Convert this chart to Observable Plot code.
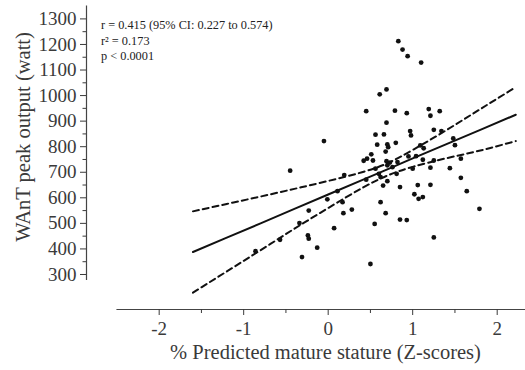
<!DOCTYPE html>
<html><head><meta charset="utf-8">
<script src="https://cdn.jsdelivr.net/npm/d3@7"></script>
<script src="https://cdn.jsdelivr.net/npm/@observablehq/plot@0.6"></script>
<style>html,body{margin:0;padding:0;background:#fff;}</style>
</head><body><div id="chart"></div>
<script>
// Observed data: % predicted mature stature (Z) vs WAnT peak output (watt)
const zScores = [0.83,0.88,0.94,1.10,0.61,0.69,0.45,0.79,0.93,1.19,1.32,1.21,0.69,-0.05,0.56,0.66,0.97,0.98,1.25,1.34,
  0.58,0.70,0.71,0.80,1.48,1.50,-0.45,0.42,0.46,0.51,0.53,0.68,0.69,0.73,0.70,0.82,0.95,1.04,1.09,1.13,
  1.12,1.25,1.57,0.56,0.60,0.62,0.76,0.81,1.00,1.21,1.44,0.45,0.65,0.70,0.85,1.06,1.21,1.57,1.64,0.19,
  0.11,-0.01,-0.23,0.17,0.18,0.28,0.62,0.68,1.02,1.07,1.12,1.79,0.85,0.93,-0.34,0.07,-0.24,-0.23,-0.13,-0.31,
  -0.57,-0.86,0.50,0.55,1.25];
const peakOutput = [1213,1180,1154,1129,1005,1024,939,941,931,947,939,921,894,822,847,848,861,844,866,861,
  808,809,798,815,832,806,706,745,753,770,746,781,743,738,727,740,762,763,805,794,
  749,746,753,714,694,681,720,694,714,718,716,671,648,665,642,650,651,678,626,689,
  626,594,550,583,540,554,583,540,614,596,603,557,515,513,501,481,453,440,405,368,
  436,391,341,498,445];

// Regression line and 95% confidence limits
const fitZ    = [-1.6, -1.2, -0.8, -0.4, 0, 0.4, 0.7, 1.0, 1.4, 1.8, 2.22];
const fitLine = [388, 444, 500, 557, 613, 669, 711, 754, 810, 866, 925];
const ciUpper = [547, 576, 605, 635, 666, 700, 735, 787, 865, 947, 1033];
const ciLower = [229, 312, 395, 479, 560, 638, 687, 721, 755, 785, 822];

// Axes
const yTicks = [300, 400, 500, 600, 700, 800, 900, 1000, 1100, 1200, 1300];
const yMinor = [350, 450, 550, 650, 750, 850, 950, 1050, 1150, 1250];
const xTicks = [-2, -1, 0, 1, 2];
const xMinor = [-1.5, -0.5, 0.5, 1.5];
const xDomain = [-2.86, 2.335];
const yDomain = [163, 1372];
const yAxisExtent = [276, 1350];
const xAxisExtent = [-2.5, 2.335];

const xLabel = "% Predicted mature stature (Z-scores)";
const yLabel = "WAnT peak output (watt)";
const statsText = "r = 0.415 (95% CI: 0.227 to 0.574)\nr² = 0.173\np < 0.0001";

const points = zScores.map((z, i) => ({z, w: peakOutput[i]}));
const fitRows = fitZ.map((z, i) => ({z, fit: fitLine[i], hi: ciUpper[i], lo: ciLower[i]}));
const fmt = d => d < 0 ? "-" + Math.abs(d) : String(d);

const chart = Plot.plot({
  width: 525, height: 370,
  marginLeft: 86, marginRight: 0, marginTop: 0, marginBottom: 61,
  style: {fontFamily: "'Liberation Serif', serif", fontSize: "19px", color: "#3a3a3a", background: "#fff"},
  x: {domain: xDomain},
  y: {domain: yDomain},
  marks: [
    Plot.ruleX([xDomain[0]], {y1: yAxisExtent[0], y2: yAxisExtent[1], stroke: "#444", strokeWidth: 1.2}),
    Plot.ruleY([yDomain[0]], {x1: xAxisExtent[0], x2: xAxisExtent[1], stroke: "#444", strokeWidth: 1.2}),
    Plot.axisY(yTicks, {anchor: "left", tickSize: 6, tickPadding: 4, label: null, fontSize: 19, tickFormat: d => String(d)}),
    Plot.axisY(yMinor, {anchor: "left", tickSize: 3.5, tickFormat: () => "", label: null}),
    Plot.axisX(xTicks, {anchor: "bottom", tickSize: 6, tickPadding: 6, label: null, tickFormat: fmt, fontSize: 19}),
    Plot.axisX(xMinor, {anchor: "bottom", tickSize: 4, tickFormat: () => "", label: null}),
    Plot.line(fitRows, {x: "z", y: "fit", stroke: "#111", strokeWidth: 2}),
    Plot.line(fitRows, {x: "z", y: "hi", stroke: "#111", strokeWidth: 2, strokeDasharray: "6,4", curve: "natural"}),
    Plot.line(fitRows, {x: "z", y: "lo", stroke: "#111", strokeWidth: 2, strokeDasharray: "6,4", curve: "natural"}),
    Plot.dot(points, {x: "z", y: "w", r: 2.4, fill: "#111", stroke: null}),
    Plot.text([statsText], {frameAnchor: "top-left", dx: 14.5, dy: 18, lineAnchor: "top", textAnchor: "start", fontSize: 12.3, lineHeight: 1.25, fill: "#222"}),
    Plot.text([xLabel], {frameAnchor: "bottom", dx: 19.5, dy: 49, fontSize: 20.5, fill: "#3a3a3a"}),
    Plot.text([yLabel], {frameAnchor: "left", textAnchor: "middle", rotate: -90, dx: -63, dy: -18, fontSize: 20.5, fill: "#3a3a3a"})
  ]
});
document.getElementById("chart").appendChild(chart);
</script>
</body></html>
